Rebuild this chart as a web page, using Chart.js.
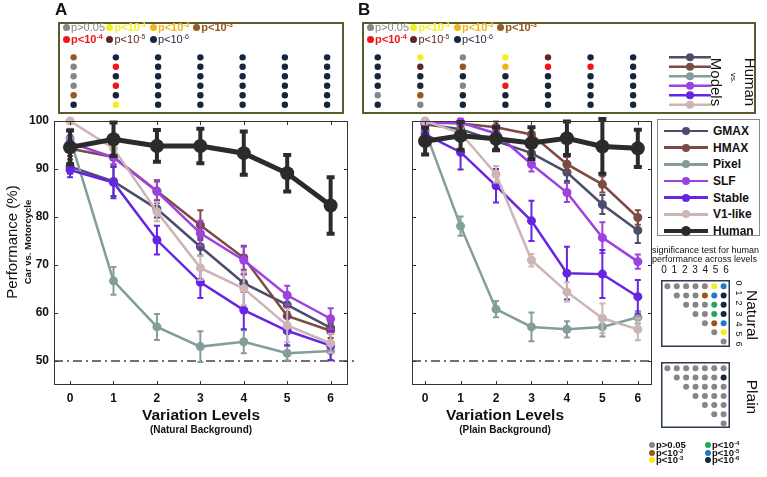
<!DOCTYPE html>
<html>
<head>
<meta charset="utf-8">
<title>Car vs. Motorcycle: human vs. models</title>
<script src="https://cdn.jsdelivr.net/npm/chart.js@4.4.1/dist/chart.umd.min.js"></script>
<style>
  body { margin: 0; background: #fff; }
  #fig { position: relative; width: 767px; height: 477px; overflow: hidden;
         font-family: "Liberation Sans", Arial, sans-serif; color: #111; }
  #fig canvas { position: absolute; }
  .t { position: absolute; white-space: nowrap; line-height: 1; }
  .c { transform: translate(-50%, -50%); }
  .r90 { transform: translate(-50%, -50%) rotate(90deg); }
  .rm90 { transform: translate(-50%, -50%) rotate(-90deg); }
  .key { position: absolute; white-space: nowrap; line-height: 1; font-size: 11px; }
  .key sup { font-size: 7px; vertical-align: 4px; line-height: 0; }
  .key.small sup { font-size: 6px; vertical-align: 3px; }
  .dot { display: inline-block; width: 7px; height: 7px; border-radius: 50%; margin-right: 1px; vertical-align: 0; }
  #legend { position: absolute; left: 657px; top: 119px; width: 103px; height: 117px;
            box-sizing: border-box; border: 1px solid #8a8a8a; background: #fff; }
  .lg { position: absolute; left: 0; height: 0; width: 100%; }
  .lg .ln { position: absolute; left: 6px; width: 44px; }
  .lg .pt { position: absolute; border-radius: 50%; }
  .lg b { position: absolute; left: 55px; top: -7px; font-size: 12px; }
</style>
</head>
<body>
<div id="fig">
  <canvas id="mainA" width="360" height="477" style="left:0;top:0"></canvas>
  <canvas id="mainB" width="310" height="477" style="left:350px;top:0"></canvas>
  <canvas id="topA" width="294" height="100" style="left:54px;top:18px"></canvas>
  <canvas id="topB" width="402" height="100" style="left:358px;top:18px"></canvas>
  <canvas id="sigNat" width="77" height="75" style="left:657px;top:276px"></canvas>
  <canvas id="sigPlain" width="77" height="74" style="left:657px;top:358px"></canvas>
  <div id="legend"></div>

  <div class="t" style="left:55px;top:1px;font-size:17px;font-weight:bold">A</div>
  <div class="t" style="left:358px;top:1px;font-size:17px;font-weight:bold">B</div>

  <div class="t rm90" style="left:11px;top:242px;font-size:15px">Performance (%)</div>
  <div class="t rm90" style="left:28px;top:242px;font-size:9.5px;font-weight:bold">Car vs. Motorcycle</div>

  <div class="t c" style="left:201px;top:415px;font-size:15.5px;font-weight:bold">Variation Levels</div>
  <div class="t c" style="left:201px;top:430px;font-size:10px;font-weight:bold">(Natural Background)</div>
  <div class="t c" style="left:505px;top:415px;font-size:15.5px;font-weight:bold">Variation Levels</div>
  <div class="t c" style="left:505px;top:430px;font-size:10px;font-weight:bold">(Plain Background)</div>

  <div class="t r90" style="left:716px;top:82px;font-size:15px">Models</div>
  <div class="t r90" style="left:733px;top:78px;font-size:8px">vs.</div>
  <div class="t r90" style="left:750px;top:82px;font-size:15px">Human</div>

  <div class="t" style="left:652px;top:246px;font-size:9px">significance test for human</div>
  <div class="t" style="left:652px;top:255px;font-size:9px">performance across levels</div>
  <div class="t r90" style="left:752px;top:315px;font-size:15.5px">Natural</div>
  <div class="t r90" style="left:752px;top:397px;font-size:15.5px">Plain</div>
</div>

<script>
Chart.defaults.font.family = '"Liberation Sans", Arial, sans-serif';

// ---- data ----
const levels = [0, 1, 2, 3, 4, 5, 6];
const yTicks = [50, 60, 70, 80, 90, 100];
const chance = 50;
const models = ['GMAX', 'HMAX', 'Pixel', 'SLF', 'Stable', 'V1-like', 'Human'];
const modelColors = ['#4b4d6b', '#7e4a44', '#839e9a', '#9b42e0', '#6624e3', '#cdb5b5', '#2b2b2b'];

// natural background, mean performance (%)
const natGMAX   = [90.5, 87.4, 81.7, 73.8, 66.2, 61.7, 56.9];
const natHMAX   = [94.2, 92.5, 85.4, 78.3, 71.5, 59.4, 56.3];
const natPixel  = [96.4, 66.7, 57.1, 53.0, 54.0, 51.6, 52.1];
const natSLF    = [95.5, 92.4, 85.3, 76.6, 71.0, 63.7, 58.8];
const natStable = [89.8, 87.2, 75.2, 66.4, 60.6, 56.3, 53.2];
const natV1     = [100, 94.3, 81.1, 69.4, 65.1, 57.4, 53.7];
const natHuman  = [94.5, 96.2, 94.8, 94.8, 93.3, 89.1, 82.4];
// natural background, error bars
const errNatGMAX   = [1.5, 3.0, 1.8, 1.8, 1.8, 1.5, 1.2];
const errNatHMAX   = [1.5, 1.5, 2.0, 3.1, 2.5, 2.0, 1.5];
const errNatPixel  = [2.0, 2.9, 2.7, 3.2, 2.4, 1.5, 2.0];
const errNatSLF    = [1.5, 1.5, 2.4, 2.6, 2.8, 2.0, 2.2];
const errNatStable = [1.5, 3.3, 3.0, 3.3, 4.0, 3.0, 3.0];
const errNatV1     = [0.3, 1.5, 2.0, 2.5, 3.5, 3.5, 2.0];
const errNatHuman  = [3.5, 3.5, 3.3, 3.6, 4.5, 3.8, 5.9];

// plain background, mean performance (%)
const plGMAX   = [99.3, 98.3, 95.8, 93.3, 89.3, 82.6, 77.2];
const plHMAX   = [99.8, 99.5, 98.7, 97.2, 91.0, 86.8, 79.9];
const plPixel  = [98.0, 78.1, 60.8, 57.1, 56.6, 57.1, 59.1];
const plSLF    = [99.5, 99.7, 97.4, 91.0, 85.1, 75.7, 70.7];
const plStable = [97.2, 93.5, 86.5, 79.2, 68.3, 68.1, 63.4];
const plV1     = [100, 97.5, 88.9, 71.0, 64.4, 58.9, 56.6];
const plHuman  = [95.8, 96.9, 96.3, 95.4, 96.4, 94.7, 94.3];
// plain background, error bars
const errPlGMAX   = [0.8, 1.2, 1.5, 1.8, 1.8, 2.0, 2.6];
const errPlHMAX   = [0.5, 0.8, 1.2, 1.5, 1.5, 1.7, 1.5];
const errPlPixel  = [1.0, 2.0, 1.7, 3.0, 1.7, 2.0, 1.3];
const errPlSLF    = [0.8, 0.8, 1.5, 1.5, 2.0, 3.2, 1.5];
const errPlStable = [1.0, 3.6, 3.5, 4.2, 5.5, 5.0, 3.5];
const errPlV1     = [0.5, 1.0, 1.7, 1.3, 2.0, 3.1, 2.3];
const errPlHuman  = [2.8, 2.9, 2.4, 3.3, 3.5, 5.7, 3.9];

// human vs. model tests, code = p-value exponent (0 means p>0.05)
const sigColors = ['#868686', '#f4ee1c', '#f2b417', '#98571f', '#f21515', '#5b2727', '#16243c'];
const sigNatural = [
  [3, 6, 6, 6, 6, 6, 6],
  [0, 4, 6, 6, 6, 6, 6],
  [0, 6, 6, 6, 6, 6, 6],
  [0, 4, 6, 6, 6, 6, 6],
  [3, 6, 6, 6, 6, 6, 6],
  [6, 1, 6, 6, 6, 6, 6]
];
const sigPlain = [
  [6, 1, 0, 1, 5, 6, 6],
  [6, 5, 3, 2, 4, 4, 6],
  [6, 6, 6, 6, 6, 6, 6],
  [6, 6, 0, 4, 6, 6, 6],
  [0, 3, 6, 6, 6, 6, 6],
  [6, 0, 6, 6, 6, 6, 6]
];

// human across levels, same codes
const humColors = ['#868686', null, '#98571f', '#f4ee1c', '#1fa85a', '#1f78c8', '#16243c'];
const _ = null;
const humNatural = [
  [0, 0, 0, 0, 0, 3, 5],
  [_, 0, 0, 0, 2, 5, 6],
  [_, _, 0, 0, 0, 4, 6],
  [_, _, _, 0, 0, 4, 6],
  [_, _, _, _, 0, 2, 5],
  [_, _, _, _, _, 0, 3],
  [_, _, _, _, _, _, 0]
];
const humPlain = [
  [0, 0, 0, 0, 0, 0, 0],
  [_, 0, 0, 0, 0, 0, 6],
  [_, _, 0, 0, 0, 0, 0],
  [_, _, _, 0, 0, 0, 0],
  [_, _, _, _, 0, 0, 0],
  [_, _, _, _, _, 0, 0],
  [_, _, _, _, _, _, 0]
];

// ---- plugins ----
const errorBars = {
  id: 'errorBars',
  beforeDatasetDraw(chart, args) {
    const ds = chart.data.datasets[args.index];
    if (!ds.errors) return;
    const y = chart.scales.y, ctx = chart.ctx;
    ctx.save();
    ctx.strokeStyle = ds.borderColor;
    ctx.lineWidth = ds.errWidth;
    ctx.beginPath();
    args.meta.data.forEach((pt, i) => {
      const v = ds.data[i].y, e = ds.errors[i];
      const t = y.getPixelForValue(v + e), b = y.getPixelForValue(v - e);
      ctx.moveTo(pt.x, t); ctx.lineTo(pt.x, b);
      ctx.moveTo(pt.x - ds.capHalf, t); ctx.lineTo(pt.x + ds.capHalf, t);
      ctx.moveTo(pt.x - ds.capHalf, b); ctx.lineTo(pt.x + ds.capHalf, b);
    });
    ctx.stroke();
    ctx.restore();
  }
};

const chanceLine = {
  id: 'chanceLine',
  beforeDatasetsDraw(chart, args, opts) {
    const { ctx, chartArea: a, scales: { y } } = chart;
    const p = y.getPixelForValue(chance);
    ctx.save();
    ctx.setLineDash([9, 4, 2, 4]);
    ctx.strokeStyle = '#444';
    ctx.lineWidth = 1.5;
    ctx.beginPath(); ctx.moveTo(a.left, p); ctx.lineTo(a.right + (opts.extend || 0), p); ctx.stroke();
    ctx.restore();
  }
};

const frame = {
  id: 'frame',
  afterDraw(chart) {
    const { ctx, chartArea: a, scales: { x, y } } = chart;
    ctx.save();
    ctx.strokeStyle = '#333';
    ctx.lineWidth = 1;
    ctx.strokeRect(a.left + 0.5, a.top + 0.5, a.width - 1, a.height - 1);
    ctx.beginPath();
    yTicks.forEach(v => {
      const p = Math.round(y.getPixelForValue(v)) + 0.5;
      ctx.moveTo(a.left, p); ctx.lineTo(a.left + 4, p);
      ctx.moveTo(a.right, p); ctx.lineTo(a.right - 4, p);
    });
    levels.forEach(v => {
      const p = Math.round(x.getPixelForValue(v)) + 0.5;
      ctx.moveTo(p, a.bottom); ctx.lineTo(p, a.bottom - 4);
      ctx.moveTo(p, a.top); ctx.lineTo(p, a.top + 4);
    });
    ctx.stroke();
    ctx.restore();
  }
};

const boxLine = {
  id: 'boxLine',
  afterDraw(chart, args, opts) {
    const { ctx, chartArea: a } = chart;
    const w = opts.width || 1;
    ctx.save();
    ctx.strokeStyle = opts.color || '#333';
    ctx.lineWidth = w;
    ctx.strokeRect(a.left + w / 2, a.top + w / 2, a.width - w, a.height - w);
    ctx.restore();
  }
};

// "Human vs. Models" line key inside the top box of panel B
const rowKey = {
  id: 'rowKey',
  afterDraw(chart) {
    const { ctx, chartArea: a, scales: { y } } = chart;
    ctx.save();
    models.slice(0, 6).forEach((m, k) => {
      const py = y.getPixelForValue(k);
      ctx.strokeStyle = modelColors[k];
      ctx.fillStyle = modelColors[k];
      ctx.lineWidth = 2.5;
      ctx.beginPath(); ctx.moveTo(a.left + 307, py); ctx.lineTo(a.left + 349, py); ctx.stroke();
      ctx.beginPath(); ctx.arc(a.left + 328, py, 4, 0, Math.PI * 2); ctx.fill();
    });
    ctx.restore();
  }
};

// ---- charts ----
const lvlMin = -0.37, lvlMax = 6.4;
const pxPerLevel = 294 / (lvlMax - lvlMin);

function seriesSets(means, errs) {
  return models.map((name, k) => {
    const human = name === 'Human';
    return {
      label: name,
      data: levels.map((l, i) => ({ x: l, y: means[k][i] })),
      errors: errs[k],
      borderColor: modelColors[k],
      backgroundColor: modelColors[k],
      pointBackgroundColor: modelColors[k],
      borderWidth: human ? 5 : 2.5,
      pointRadius: human ? 7 : 4.5,
      pointBorderWidth: 0,
      errWidth: human ? 4 : 2,
      capHalf: human ? 4 : 3,
      order: human ? 0 : 7 - k,
      clip: false,
      tension: 0
    };
  });
}

function mainChart(id, means, errs, showY, padLeft, padRight, extend) {
  const tickFont = { size: 12, weight: 'bold' };
  return new Chart(document.getElementById(id), {
    type: 'line',
    data: { datasets: seriesSets(means, errs) },
    options: {
      responsive: false,
      animation: false,
      layout: { padding: { top: 121, left: padLeft, right: padRight, bottom: 0 } },
      plugins: { legend: { display: false }, tooltip: { enabled: false }, chanceLine: { extend: extend } },
      scales: {
        x: {
          type: 'linear', min: lvlMin, max: lvlMax,
          afterBuildTicks: s => { s.ticks = levels.map(v => ({ value: v })); },
          afterFit: s => { s.height = 92; },
          grid: { display: false, drawTicks: false },
          border: { display: false },
          ticks: { font: tickFont, color: '#111', padding: 6 }
        },
        y: {
          display: showY, min: 45, max: 100,
          afterBuildTicks: s => { s.ticks = yTicks.map(v => ({ value: v })); },
          afterFit: s => { s.width = 54; },
          grid: { display: false, drawTicks: false },
          border: { display: false },
          ticks: { font: tickFont, color: '#111', padding: 5 }
        }
      }
    },
    plugins: [chanceLine, errorBars, frame]
  });
}

mainChart('mainA',
  [natGMAX, natHMAX, natPixel, natSLF, natStable, natV1, natHuman],
  [errNatGMAX, errNatHMAX, errNatPixel, errNatSLF, errNatStable, errNatV1, errNatHuman],
  true, 0, 12, 10);
mainChart('mainB',
  [plGMAX, plHMAX, plPixel, plSLF, plStable, plV1, plHuman],
  [errPlGMAX, errPlHMAX, errPlPixel, errPlSLF, errPlStable, errPlV1, errPlHuman],
  false, 8, 8, 0);

function dotSets(grid, palette, radius) {
  return grid.map((row, r) => ({
    data: row.map((c, i) => (c === null ? null : { x: levels[i], y: r })).filter(Boolean),
    pointBackgroundColor: row.filter(c => c !== null).map(c => palette[c]),
    pointRadius: radius,
    pointBorderWidth: 0,
    showLine: false
  }));
}

function dotChart(id, grid, palette, radius, xr, yr, box, extra) {
  return new Chart(document.getElementById(id), {
    type: 'scatter',
    data: { datasets: dotSets(grid, palette, radius) },
    options: {
      responsive: false,
      animation: false,
      layout: { padding: 0 },
      plugins: { legend: { display: false }, tooltip: { enabled: false }, boxLine: box },
      scales: {
        x: { display: false, min: xr[0], max: xr[1] },
        y: { display: false, reverse: true, min: yr[0], max: yr[1] }
      }
    },
    plugins: [boxLine].concat(extra || [])
  });
}

const olive = { color: '#5c5b2e', width: 2 };
dotChart('topA', sigNatural, sigColors, 3.2, [lvlMin, lvlMax], [-3.73, 5.98], olive);
dotChart('topB', sigPlain, sigColors, 3.2, [lvlMin, lvlMin + 402 / pxPerLevel], [-3.73, 5.98], olive, [rowKey]);

const navyBox = { color: '#2d3b52', width: 1.5 };
dotChart('sigNat', humNatural, humColors, 3, [-0.68, 6.68], [-0.69, 6.59], navyBox);
dotChart('sigPlain', humPlain, humColors, 3, [-0.68, 6.68], [-0.69, 6.49], navyBox);

// ---- html keys and labels ----
const fig = document.getElementById('fig');
function addHtml(cls, style, html) {
  const d = document.createElement('div');
  d.className = cls;
  d.setAttribute('style', style);
  d.innerHTML = html;
  fig.appendChild(d);
}
function pLabel(code) {
  return code === 0 ? 'p&gt;0.05' : 'p&lt;10<sup>-' + code + '</sup>';
}
const keyBold = [false, true, true, true, true, false, false];

// p-value keys inside the top boxes, aligned with the level columns
[54, 358].forEach(left => {
  [[0, 1, 2, 3], [4, 5, 6]].forEach((codes, row) => {
    codes.forEach((code, col) => {
      const cx = left + (levels[col] - lvlMin) * pxPerLevel;
      addHtml('key', 'left:' + (cx - 7) + 'px;top:' + (22 + row * 12) + 'px;color:' + sigColors[code] +
        ';font-weight:' + (keyBold[code] ? 'bold' : 'normal'),
        '<i class="dot" style="background:' + sigColors[code] + '"></i>' + pLabel(code));
    });
  });
});

// level labels of the human significance matrix
levels.forEach((l, i) => {
  addHtml('t c', 'left:' + (664 + i * 10.33) + 'px;top:270px;font-size:10px', String(l));
  addHtml('t r90', 'left:738px;top:' + (283 + i * 10.17) + 'px;font-size:9px', String(l));
});

// key of the human significance matrix
[[0, 2, 3], [4, 5, 6]].forEach((codes, col) => {
  codes.forEach((code, row) => {
    addHtml('key small', 'left:' + (649 + col * 56) + 'px;top:' + (440 + row * 7.5) + 'px;font-size:9.5px;font-weight:bold',
      '<i class="dot" style="width:6px;height:6px;background:' + humColors[code] + '"></i>' + pLabel(code));
  });
});

// model legend
const legend = document.getElementById('legend');
models.forEach((m, k) => {
  const human = m === 'Human';
  const lw = human ? 4.5 : 2.5, r = human ? 5 : 4;
  const row = document.createElement('div');
  row.className = 'lg';
  row.style.top = (11 + k * 16.67) + 'px';
  row.innerHTML =
    '<i class="ln" style="top:' + (-lw / 2) + 'px;height:' + lw + 'px;background:' + modelColors[k] + '"></i>' +
    '<i class="pt" style="left:' + (28 - r) + 'px;top:' + (-r) + 'px;width:' + (2 * r) + 'px;height:' + (2 * r) +
    'px;background:' + modelColors[k] + '"></i>' +
    '<b>' + m + '</b>';
  legend.appendChild(row);
});
</script>
</body>
</html>
